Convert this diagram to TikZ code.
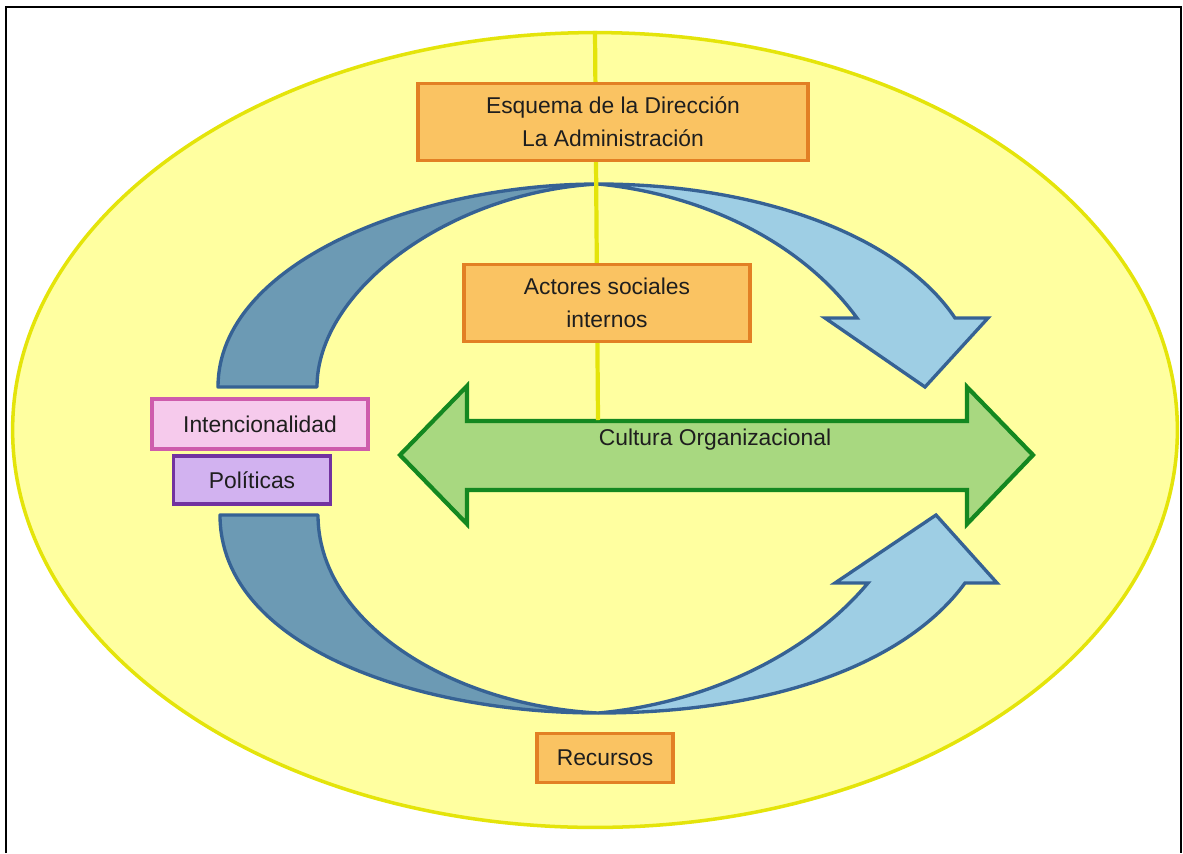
\documentclass[tikz,border=0pt]{standalone}
\usepackage{fontspec}
\setmainfont{Liberation Sans}
\usepackage{tikz}
\usetikzlibrary{positioning,shapes.geometric}
\definecolor{fondo}{RGB}{255,255,160}
\definecolor{bordefondo}{RGB}{228,228,10}
\definecolor{naranja}{RGB}{250,195,98}
\definecolor{bordenaranja}{RGB}{226,128,36}
\definecolor{rosa}{RGB}{246,202,236}
\definecolor{borderosa}{RGB}{206,92,172}
\definecolor{lila}{RGB}{210,178,240}
\definecolor{bordelila}{RGB}{114,50,160}
\definecolor{azulosc}{RGB}{108,154,180}
\definecolor{azulcla}{RGB}{158,206,228}
\definecolor{bordeazul}{RGB}{54,98,148}
\definecolor{verde}{RGB}{168,216,128}
\definecolor{bordeverde}{RGB}{20,136,32}
\definecolor{texto}{RGB}{30,30,30}
\tikzset{
  caja/.style={draw=bordenaranja, fill=naranja, line width=2pt, align=center,
    text=texto, inner sep=0pt},
  intencion/.style={draw=borderosa, fill=rosa, line width=2pt, text=texto, inner sep=0pt},
  politica/.style={draw=bordelila, fill=lila, line width=2pt, text=texto, inner sep=0pt},
  flechaosc/.style={draw=bordeazul, fill=azulosc, line width=1.9pt, line join=round},
  flechaclara/.style={draw=bordeazul, fill=azulcla, line width=1.9pt, line join=miter},
  flechaverde/.style={draw=bordeverde, fill=verde, line width=2.4pt, line join=miter},
  eje/.style={draw=bordefondo, line width=2.4pt}
}

\begin{document}
\begin{tikzpicture}[x=0.02cm, y=-0.02cm, font=\fontsize{13}{18.8}\selectfont]
  \useasboundingbox (0,0) rectangle (1183,853);
  \draw[black, line width=1.4pt] (6,853) -- (6,7) -- (1181,7) -- (1181,853);
  \node[ellipse, draw=bordefondo, fill=fondo, line width=2pt,
    minimum width=23.3cm, minimum height=15.9cm, inner sep=0pt] (marco) at (595,430) {};
  \draw[flechaosc] (218,387) .. controls (218,262) and (420,184) .. (598,184)
    .. controls (450,192) and (317,290) .. (317,387) -- cycle;
  \draw[flechaclara] (598,184) .. controls (760,184) and (900,236) .. (955,318)
    -- (988,318) -- (925,387) -- (825,318) -- (857,318)
    .. controls (800,240) and (700,194) .. (598,184) -- cycle;
  \draw[flechaosc] (220,515) .. controls (220,648) and (420,713) .. (598,713)
    .. controls (450,705) and (318,622) .. (318,515) -- cycle;
  \draw[flechaclara] (598,713) .. controls (770,713) and (905,665) .. (965,583)
    -- (997,583) -- (936,515) -- (835,583) -- (868,583)
    .. controls (805,658) and (700,704) .. (598,713) -- cycle;
  \draw[flechaverde] (400,455) -- (467,386) -- (467,421) -- (967,421) -- (967,387)
    -- (1033,455) -- (967,524) -- (967,490) -- (467,490) -- (467,524) -- cycle;
  \coordinate (ejeabajo) at (598,420);
  \draw[eje] (marco.north) -- (ejeabajo);
  \node[caja, minimum width=7.8cm, minimum height=1.54cm] (direccion) at (613,122)
    {Esquema de la Dirección\\La Administración};
  \node[caja, minimum width=5.72cm, minimum height=1.54cm] (actores) at (607,303)
    {Actores sociales\\internos};
  \node[intencion, minimum width=4.32cm, minimum height=1.0cm] (intenc) at (260,424)
    {Intencionalidad};
  \node[politica, minimum width=3.14cm, minimum height=0.96cm] (politicas) at (252,480)
    {Políticas};
  \node[caja, minimum width=2.72cm, minimum height=0.98cm] (recursos) at (605,758)
    {Recursos};
  \node[text=texto] (cultura) at (715,440) {Cultura Organizacional};
\end{tikzpicture}
\end{document}
